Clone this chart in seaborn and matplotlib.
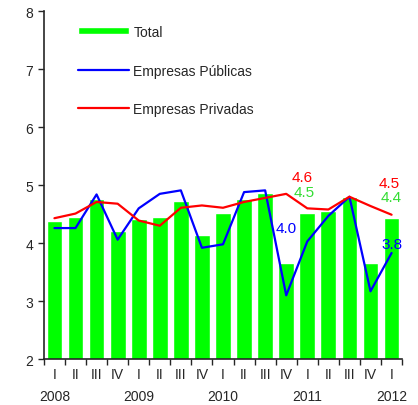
import numpy as np
import pandas as pd
import matplotlib
matplotlib.use('Agg')
import matplotlib.pyplot as plt
import seaborn as sns

quarters = ['I', 'II', 'III', 'IV'] * 4 + ['I']
years = ['2008', '2009', '2010', '2011', '2012']
total = [4.38, 4.45, 4.76, 4.21, 4.41, 4.45, 4.72, 4.14, 4.52,
         4.76, 4.87, 3.66, 4.52, 4.56, 4.79, 3.66, 4.43]
publicas = [4.26, 4.26, 4.84, 4.06, 4.60, 4.85, 4.91, 3.92, 3.98,
            4.88, 4.91, 3.10, 4.03, 4.47, 4.80, 3.17, 3.83]
privadas = [4.43, 4.51, 4.71, 4.68, 4.39, 4.30, 4.61, 4.65, 4.61,
            4.71, 4.78, 4.85, 4.60, 4.58, 4.80, 4.64, 4.49]

sns.set_style('ticks')
plt.rcParams['font.family'] = ['Liberation Sans', 'DejaVu Sans']

df = pd.DataFrame({'pos': np.arange(len(total)), 'Total': total,
                   'Publicas': publicas, 'Privadas': privadas})

fig = plt.figure(figsize=(4.18, 4.06), dpi=100)
ax = fig.add_axes([0.105, 0.113, 0.857, 0.857])

sns.barplot(data=df, x='pos', y='Total', color='#00ff00', saturation=1,
            width=0.75, label='Total', ax=ax, native_scale=True)
sns.lineplot(data=df, x='pos', y='Publicas', color='#0000ff', lw=1.6,
             label='Empresas Públicas', ax=ax)
sns.lineplot(data=df, x='pos', y='Privadas', color='#ff0000', lw=1.6,
             label='Empresas Privadas', ax=ax)

ax.set_ylim(2, 8)
ax.set_xlim(-0.5, len(total) - 0.5)
ax.set_yticks(range(2, 9))
ax.tick_params(axis='y', labelsize=10, length=4, width=1)
ax.set_xticks(np.arange(len(total) + 1) - 0.5)
ax.set_xticklabels([])
ax.set_xticks(np.arange(len(total)), minor=True)
ax.set_xticklabels(quarters, minor=True)
ax.tick_params(axis='x', which='major', length=4, width=1)
ax.tick_params(axis='x', which='minor', length=0, labelsize=10, pad=6)
ax.set_xlabel('')
ax.set_ylabel('')
for side in ['top', 'right']:
    ax.spines[side].set_visible(False)
for side in ['left', 'bottom']:
    ax.spines[side].set_linewidth(1.2)

trans = matplotlib.transforms.blended_transform_factory(ax.transData, ax.transAxes)
for i, yr in enumerate(years):
    ax.text(i * 4, -0.105, yr, transform=trans, ha='center', va='center', fontsize=10)

# data labels for 2011 I and 2012 I
for i in [12, 16]:
    dx = -0.25 if i == 12 else -0.1
    ax.text(i + dx, privadas[i] + 0.54, f'{privadas[i]:.1f}', color='#ff0000',
            ha='center', va='center', fontsize=11)
    ax.text(i + dx + 0.1, total[i] + 0.36, f'{total[i]:.1f}', color='#33dd33',
            ha='center', va='center', fontsize=11)
bx = [11.0, 16.0]
for i, x in zip([12, 16], bx):
    ax.text(x, publicas[i] + 0.23 if i == 12 else publicas[i] + 0.15,
            f'{publicas[i]:.1f}', color='#0000ff', ha='center', va='center', fontsize=11)

handles, labels = ax.get_legend_handles_labels()
order = [labels.index('Total'), labels.index('Empresas Públicas'),
         labels.index('Empresas Privadas')]
leg = ax.legend([handles[k] for k in order], [labels[k] for k in order],
                loc='upper left', bbox_to_anchor=(0.06, 0.995), frameon=False,
                fontsize=10, handlelength=3.7, labelspacing=1.75, handletextpad=0.3)
for h in leg.legend_handles:
    if isinstance(h, matplotlib.patches.Rectangle):
        h.set_height(5)
        h.set_y(1.5)

fig.savefig('out.png', dpi=100)
